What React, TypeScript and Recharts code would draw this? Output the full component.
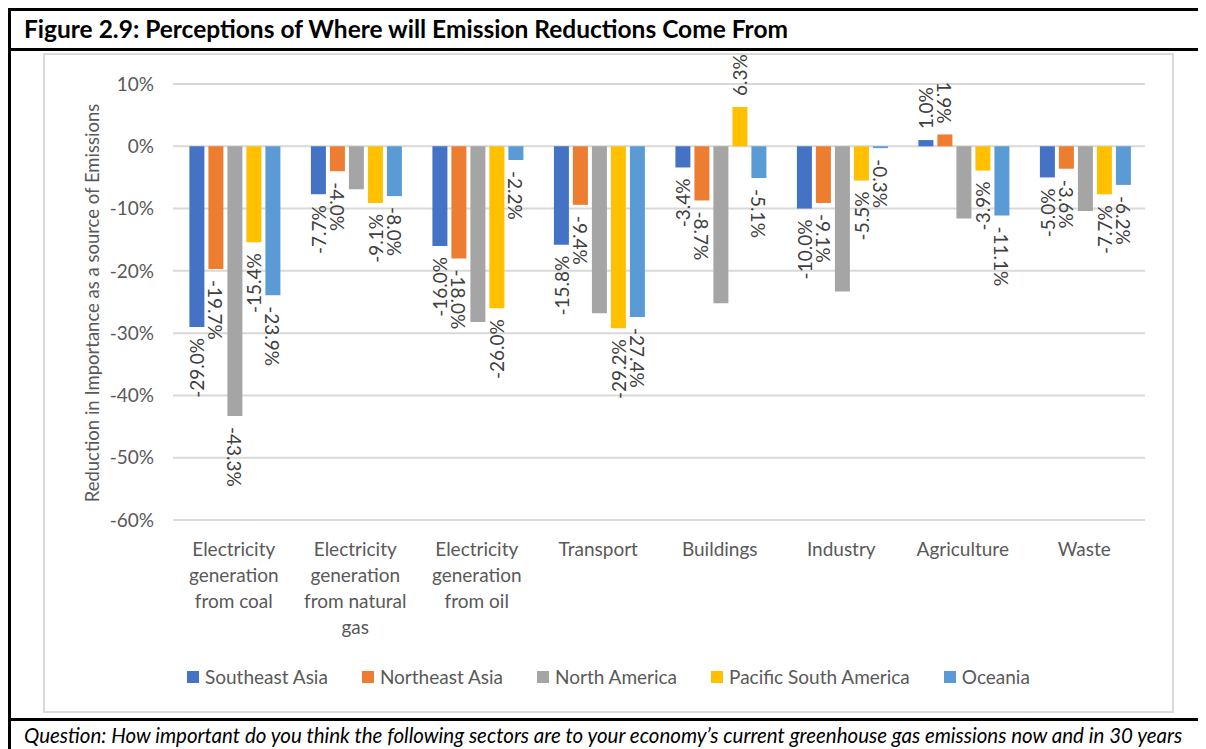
import React from "react";
import { BarChart, Bar, XAxis, YAxis, CartesianGrid, LabelList } from "recharts";

const categories = [
  "Electricity generation from coal",
  "Electricity generation from natural gas",
  "Electricity generation from oil",
  "Transport",
  "Buildings",
  "Industry",
  "Agriculture",
  "Waste",
];

const southeastAsia = [-29.0, -7.7, -16.0, -15.8, -3.4, -10.0, 1.0, -5.0];
const northeastAsia = [-19.7, -4.0, -18.0, -9.4, -8.7, -9.1, 1.9, -3.6];
const northAmerica = [-43.3, -6.9, -28.2, -26.8, -25.2, -23.3, -11.6, -10.4];
const pacificSouthAmerica = [-15.4, -9.1, -26.0, -29.2, 6.3, -5.5, -3.9, -7.7];
const oceania = [-23.9, -8.0, -2.2, -27.4, -5.1, -0.3, -11.1, -6.2];

// only the coal bar of North America carries a label in the source
const northAmericaLabelShown = [true, false, false, false, false, false, false, false];

const yTicks = [10, 0, -10, -20, -30, -40, -50, -60];

const series = [
  { key: "sea", name: "Southeast Asia", values: southeastAsia, color: "#4472C4", angle: -90 },
  { key: "nea", name: "Northeast Asia", values: northeastAsia, color: "#ED7D31", angle: 90 },
  { key: "na", name: "North America", values: northAmerica, color: "#A5A5A5", angle: 90, shown: northAmericaLabelShown },
  { key: "psa", name: "Pacific South America", values: pacificSouthAmerica, color: "#FFC000", angle: -90 },
  { key: "oce", name: "Oceania", values: oceania, color: "#5B9BD5", angle: 90 },
];

const chartData = categories.map((name, i) => {
  const row: Record<string, string | number> = { name };
  series.forEach((s) => (row[s.key] = s.values[i]));
  return row;
});

const FONT = "Lato, 'Open Sans', sans-serif";
const TEXT = "#595959";

const wrapWords = (label: string, max: number) => {
  const lines: string[] = [];
  let cur = "";
  label.split(" ").forEach((w) => {
    const next = cur ? cur + " " + w : w;
    if (next.length > max && cur) {
      lines.push(cur);
      cur = w;
    } else cur = next;
  });
  if (cur) lines.push(cur);
  return lines;
};

const CategoryTick = (props: any) => {
  const { x, y, payload } = props;
  const lines = wrapWords(payload.value, 12);
  return (
    <g transform={`translate(${x},${y})`}>
      <text textAnchor="middle" fill={TEXT} fontSize={19} fontFamily={FONT}>
        {lines.map((l, i) => (
          <tspan key={i} x={0} y={28 + i * 26}>
            {l}
          </tspan>
        ))}
      </text>
    </g>
  );
};

const makeLabel = (angle: number, shown?: boolean[]) => (props: any) => {
  const vb = props.viewBox ?? props;
  const { value, index } = props;
  if (value == null) return null;
  if (shown && index != null && !shown[index]) return null;
  const y1 = vb.y;
  const y2 = vb.y + vb.height;
  const neg = value < 0;
  const cx = vb.x + vb.width / 2;
  const ey = neg ? Math.max(y1, y2) + 11 : Math.min(y1, y2) - 11;
  // +90 reads downward, -90 reads upward
  const anchor = (angle === 90) === neg ? "start" : "end";
  return (
    <text
      x={cx}
      y={ey}
      transform={`rotate(${angle} ${cx} ${ey})`}
      textAnchor={anchor}
      dominantBaseline="central"
      fill="#404040"
      fontSize={19}
      fontFamily={FONT}
    >
      {Number(value).toFixed(1)}%
    </text>
  );
};

export default function App() {
  return (
    <div style={{ position: "relative", width: 1250, height: 760, fontFamily: FONT }}>
      {/* the figure box runs past the page edge, as in the source page */}
      <style>{`html, body { overflow: hidden; }`}</style>
      <div style={{ position: "absolute", left: 0, top: 0, width: 1250, height: 3, background: "#000" }} />
      <div style={{ position: "absolute", left: 0, top: 0, width: 3, height: 760, background: "#000" }} />
      <div style={{ position: "absolute", left: 0, top: 40, width: 1250, height: 3, background: "#000" }} />
      <div style={{ position: "absolute", left: 0, top: 710, width: 1250, height: 3, background: "#000" }} />
      <div
        style={{
          position: "absolute",
          left: 16,
          top: 6,
          fontSize: 24.5,
          fontWeight: 700,
          color: "#000",
          whiteSpace: "nowrap",
        }}
      >
        Figure 2.9: Perceptions of Where will Emission Reductions Come From
      </div>
      <div
        style={{
          position: "absolute",
          left: 16,
          top: 715,
          fontSize: 20.5,
          fontStyle: "italic",
          color: "#000",
          whiteSpace: "nowrap",
        }}
      >
        Question: How important do you think the following sectors are to your economy’s current greenhouse gas
        emissions now and in 30 years
      </div>

      {/* chart frame */}
      <div
        style={{
          position: "absolute",
          left: 35,
          top: 45,
          width: 1131,
          height: 660,
          boxSizing: "border-box",
          border: "2px solid #D9D9D9",
        }}
      />
      <div style={{ position: "absolute", left: 35, top: 45 }}>
        <BarChart
          width={1131}
          height={660}
          data={chartData}
          margin={{ top: 31, right: 29, left: 70, bottom: 83 }}
          barCategoryGap="13.5%"
          barGap={4}
        >
          <CartesianGrid vertical={false} stroke="#D9D9D9" strokeWidth={2} />
          <XAxis
            dataKey="name"
            axisLine={false}
            tickLine={false}
            interval={0}
            height={110}
            tick={<CategoryTick />}
          />
          <YAxis
            domain={[-60, 10]}
            ticks={yTicks}
            axisLine={false}
            tickLine={false}
            tickMargin={13}
            width={60}
            tickFormatter={(v: number) => `${v}%`}
            tick={{ fill: TEXT, fontSize: 19, fontFamily: FONT }}
          />
          {series.map((s) => (
            <Bar key={s.key} dataKey={s.key} name={s.name} fill={s.color} isAnimationActive={false}>
              <LabelList dataKey={s.key} content={makeLabel(s.angle, s.shown)} />
            </Bar>
          ))}
        </BarChart>
        <div
          style={{
            position: "absolute",
            left: 49,
            top: 250,
            transform: "translate(-50%, -50%) rotate(-90deg)",
            whiteSpace: "nowrap",
            fontSize: 18.5,
            color: TEXT,
          }}
        >
          Reduction in Importance as a source of Emissions
        </div>
        {/* legend */}
        <div
          style={{
            position: "absolute",
            left: 144,
            top: 612,
            display: "flex",
            alignItems: "center",
            gap: 34,
            whiteSpace: "nowrap",
            fontSize: 19,
            color: TEXT,
          }}
        >
          {series.map((s) => (
            <div key={s.key} style={{ display: "flex", alignItems: "center", gap: 6 }}>
              <div style={{ width: 12, height: 12, background: s.color }} />
              <span>{s.name}</span>
            </div>
          ))}
        </div>
      </div>
    </div>
  );
}
